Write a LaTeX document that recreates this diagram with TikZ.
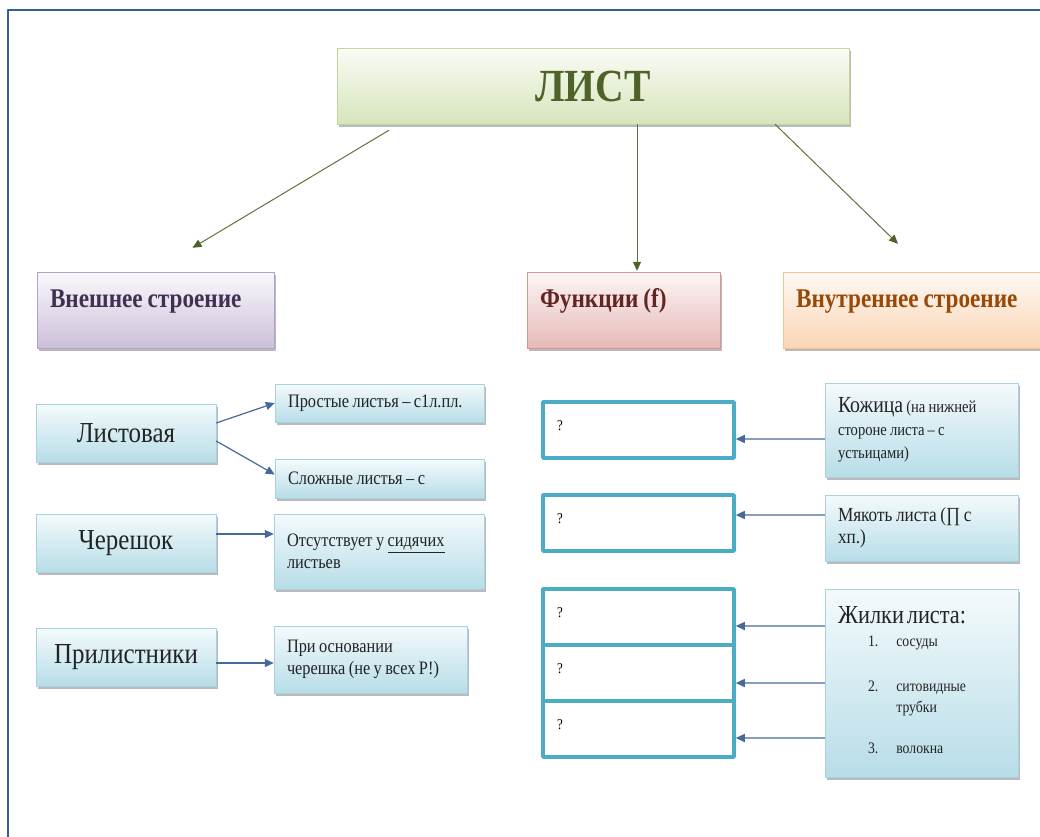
\documentclass[tikz,border=0pt]{standalone}
\usepackage{fontspec}
\setmainfont[FakeStretch=0.86]{Liberation Serif}
\usetikzlibrary{arrows.meta,shadows}

\newcommand\setfs[2]{\fontsize{#1}{#2}\selectfont}

\definecolor{framecol}{RGB}{54,96,146}
\definecolor{leafgreen}{RGB}{79,98,40}
\definecolor{greentop}{RGB}{250,252,245}
\definecolor{greenbot}{RGB}{215,228,189}
\definecolor{greenline}{RGB}{195,214,155}
\definecolor{violettop}{RGB}{250,248,252}
\definecolor{violetbot}{RGB}{204,192,218}
\definecolor{violetline}{RGB}{179,162,199}
\definecolor{violettext}{RGB}{64,49,82}
\definecolor{redtop}{RGB}{252,246,246}
\definecolor{redbot}{RGB}{230,185,184}
\definecolor{redline}{RGB}{217,150,148}
\definecolor{redtext}{RGB}{99,37,35}
\definecolor{orangetop}{RGB}{254,249,244}
\definecolor{orangebot}{RGB}{251,213,181}
\definecolor{orangeline}{RGB}{250,192,144}
\definecolor{orangetext}{RGB}{152,72,7}
\definecolor{bluetop}{RGB}{244,250,252}
\definecolor{bluebot}{RGB}{183,221,232}
\definecolor{blueline}{RGB}{168,210,224}
\definecolor{qline}{RGB}{75,172,198}
\definecolor{arrowblue}{RGB}{70,105,155}
\definecolor{arrowgray}{RGB}{135,158,192}
\definecolor{textgray}{RGB}{35,35,35}

\begin{document}
\begin{tikzpicture}[x=1pt, y=-1pt, line join=round,
    every node/.style={execute at begin node={\spaceskip=0.18em plus 0.04em\relax}},
    boxshadow/.style={drop shadow={shadow xshift=1.5pt, shadow yshift=-3pt, fill=black!60, opacity=.45}},
    headbox/.style={draw=#1line, top color=#1top, bottom color=#1bot, boxshadow,
        inner xsep=13pt, inner ysep=0pt, text height=35pt, text depth=41pt,
        align=left, font=\bfseries\setfs{27}{30}},
    bluebox/.style={draw=blueline, top color=bluetop, bottom color=bluebot, boxshadow,
        inner xsep=13pt, align=left, text=textgray},
    bigtext/.style={font=\setfs{29}{32}, align=center},
    smalltext/.style={font=\setfs{#1}{22}},
    smalltext/.default=19,
    qbox/.style={draw=qline, line width=3.5pt, fill=white, text width=163pt,
        inner xsep=14pt, inner ysep=0pt, text height=28pt, text depth=28pt,
        align=left, font=\setfs{15}{15}},
    greenarrow/.style={draw=leafgreen!90, line width=1pt, -{Triangle[length=9pt, width=8pt, color=leafgreen]}},
    bluearrow/.style={draw=arrowblue, line width=1.2pt, -{Triangle[length=9pt, width=8pt]}},
    grayarrow/.style={draw=arrowgray, line width=1.5pt, -{Triangle[length=9pt, width=8pt, color=arrowblue]}}]

\useasboundingbox (0,0) rectangle (1040,836);
\fill[white] (0,0) rectangle (1040,836);
\draw[framecol, line width=2pt] (8,840) -- (8,10) -- (1045,10);

% top
\node[draw=greenline, top color=greentop, bottom color=greenbot, boxshadow,
      minimum width=512pt, minimum height=76pt, text=leafgreen,
      font=\bfseries\setfs{46}{46}] (list) at (593,86) {ЛИСТ};

\node[headbox=violet, text width=211pt, text=violettext] (outer) at (155.5,310) {Внешнее строение};
\node[headbox=red,    text width=167pt, text=redtext]    (func)  at (623.5,310) {Функции (f)};
\node[headbox=orange, text width=241pt, text=orangetext] (inner) at (916.5,310) {Внутреннее строение};

\draw[greenarrow] ([xshift=-204pt, yshift=-6pt]list.south) -- ([xshift=37pt, yshift=24pt]outer.north);
\draw[greenarrow] ([xshift=44pt]list.south) -- ([xshift=13.5pt, yshift=1pt]func.north);
\draw[greenarrow] ([xshift=182pt]list.south) -- ([xshift=-18.5pt, yshift=28pt]inner.north);

% outer structure
\node[bluebox, bigtext, minimum width=180pt, minimum height=58pt] (leaf)     at (126,433) {Листовая};
\node[bluebox, bigtext, minimum width=180pt, minimum height=58pt] (stalk)    at (126,543) {Черешок};
\node[bluebox, bigtext, minimum width=180pt, minimum height=58pt] (stipule)  at (126,657) {Прилистники};

\node[bluebox, smalltext, text width=183pt, minimum height=38pt] (simple)   at (379.5,403)   {Простые листья – с1л.пл.};
\node[bluebox, smalltext, text width=183pt, minimum height=39pt] (compound) at (379.5,478.5) {Сложные листья – с};
\node[bluebox, smalltext, text width=184pt, minimum height=75pt] (absent)   at (379,551.5)   {Отсутствует у \underline{сидячих}\\листьев};
\node[bluebox, smalltext, text width=167pt, minimum height=67pt] (base)     at (370.5,659.5) {При основании\\черешка (не у всех Р!)};

\draw[bluearrow] ([yshift=10pt]leaf.east) -- (simple.west);
\draw[bluearrow] ([yshift=-8pt]leaf.east) -- ([yshift=4pt]compound.west);
\draw[bluearrow] ([yshift=9pt]stalk.east) -- ([yshift=9pt]stalk.east -| absent.west);
\draw[bluearrow] ([yshift=-6pt]stipule.east) -- ([yshift=-6pt]stipule.east -| base.west);

% functions
\node[qbox] (q1) at (638.5,430) {?};
\node[qbox] (q2) at (638.5,523) {?};
\node[qbox] (q3) at (638.5,617) {?};
\node[qbox] (q4) at (638.5,673) {?};
\node[qbox] (q5) at (638.5,729) {?};

% inner structure
\node[bluebox, text width=167pt, minimum height=94pt, font=\setfs{17}{23}] (skin) at (921.5,430)
    {{\setfs{23}{23}Кожица} (на нижней\\стороне листа – с\\устьицами)};
\node[bluebox, text width=167pt, minimum height=66pt, font=\setfs{20}{22}] (pulp) at (921.5,528)
    {Мякоть листа (∏ с\\хп.)};
\node[bluebox, text width=167pt, minimum height=188pt, font=\setfs{16}{21}] (veins) at (921.5,683)
    {{\setfs{26}{28}Жилки листа:}\\[2pt]
     \begin{tabular}[t]{@{\hspace{30pt}}l@{\hspace{18pt}}l}
       1. & сосуды\\[24pt]
       2. & ситовидные\\
          & трубки\\[20pt]
       3. & волокна
     \end{tabular}};

\draw[grayarrow] ([yshift=-9pt]skin.west) -- ([yshift=-9pt]skin.west -| q1.east);
\draw[grayarrow] ([yshift=13pt]pulp.west) -- ([yshift=13pt]pulp.west -| q2.east);
\draw[grayarrow] ([yshift=57pt]veins.west) -- ([yshift=57pt]veins.west -| q3.east);
\draw[grayarrow] (veins.west) -- (veins.west -| q4.east);
\draw[grayarrow] ([yshift=-55pt]veins.west) -- ([yshift=-55pt]veins.west -| q5.east);

\end{tikzpicture}
\end{document}
